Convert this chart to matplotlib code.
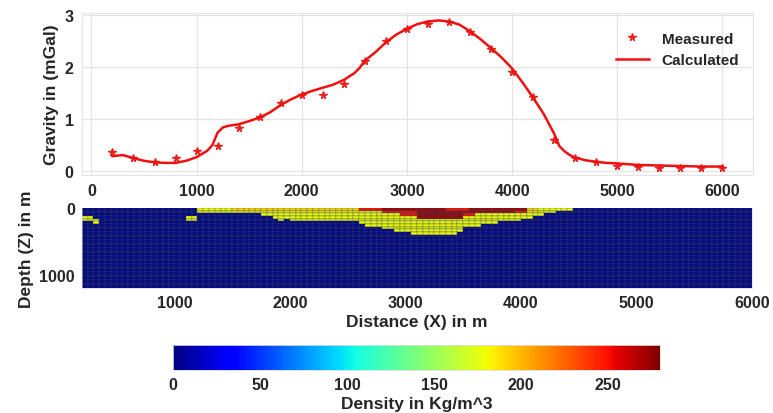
import numpy as np
import matplotlib
matplotlib.use("Agg")
import matplotlib.pyplot as plt

# ---------------- data ----------------
meas_x = [200, 400, 600, 800, 1000, 1200, 1400, 1600, 1800, 2000, 2200, 2400, 2600, 2800,
          3000, 3200, 3400, 3600, 3800, 4000, 4200, 4400, 4600, 4800, 5000, 5200, 5400,
          5600, 5800, 6000]
meas_g = [0.36, 0.26, 0.17, 0.26, 0.38, 0.48, 0.82, 1.04, 1.30, 1.46, 1.46, 1.68, 2.12, 2.49,
          2.73, 2.82, 2.86, 2.67, 2.35, 1.90, 1.42, 0.59, 0.26, 0.17, 0.10, 0.08, 0.07,
          0.07, 0.07, 0.07]

calc_x = [200, 300, 400, 500, 600, 700, 800, 900, 1000, 1100, 1150, 1200, 1250, 1300, 1400,
          1500, 1600, 1700, 1800, 1900, 2000, 2100, 2200, 2300, 2400, 2500, 2550, 2600, 2700,
          2800, 2900, 3000, 3100, 3200, 3300, 3400, 3500, 3600, 3700, 3800, 3900, 4000, 4100,
          4200, 4300, 4400, 4450, 4500, 4550, 4600, 4700, 4800, 4900, 5000, 5200, 5400, 5600,
          5800, 6000]
calc_g = [0.29, 0.31, 0.25, 0.20, 0.17, 0.16, 0.16, 0.20, 0.27, 0.39, 0.50, 0.74, 0.84, 0.87,
          0.90, 0.96, 1.03, 1.13, 1.27, 1.38, 1.47, 1.54, 1.60, 1.66, 1.75, 1.88, 1.98, 2.12,
          2.28, 2.47, 2.62, 2.73, 2.82, 2.87, 2.89, 2.87, 2.81, 2.68, 2.53, 2.36, 2.18, 1.97,
          1.70, 1.41, 1.10, 0.72, 0.48, 0.38, 0.31, 0.26, 0.21, 0.18, 0.16, 0.15, 0.12, 0.11,
          0.10, 0.09, 0.09]

# density model: blocks (x0, x1, z0, z1, density) on the inversion grid
model_blocks = [
    (200, 300, 120, 200, 180), (300, 350, 160, 240, 180), (1100, 1200, 120, 200, 180),
    (1200, 1750, 0, 80, 180), (1750, 1850, 0, 120, 180), (1850, 1900, 0, 160, 180),
    (1900, 1950, 0, 200, 180), (1950, 2000, 0, 160, 180), (2000, 2600, 0, 200, 180),
    (2600, 2650, 0, 240, 180), (2650, 2800, 0, 280, 180), (2800, 2900, 0, 320, 180),
    (2900, 3050, 0, 360, 180), (3050, 3450, 0, 400, 180), (3450, 3500, 0, 360, 180),
    (3500, 3650, 0, 280, 180), (3650, 3800, 0, 240, 180), (3800, 4000, 0, 200, 180),
    (4000, 4100, 0, 160, 180), (4100, 4200, 0, 120, 180), (4200, 4300, 0, 80, 180),
    (4300, 4450, 0, 40, 180),
    (1500, 2600, 0, 40, 192), (4050, 4150, 0, 40, 192),
    (2600, 2800, 0, 40, 250), (2800, 4050, 0, 40, 272), (3350, 3550, 0, 40, 250),
    (2800, 3100, 40, 80, 250), (3100, 3950, 40, 80, 272), (3950, 4050, 40, 80, 250),
    (2950, 3100, 80, 120, 250), (3100, 3500, 80, 160, 272), (3500, 3600, 80, 120, 250),
]
grid_x = np.arange(200, 6001, 50)
grid_z = np.arange(0, 1201, 40)

cbar_ticks = [0, 50, 100, 150, 200, 250]
# --------------------------------------

plt.rcParams['font.family'] = ['Liberation Sans', 'DejaVu Sans']
plt.rcParams['font.weight'] = 'bold'
txt = '#262626'

fig = plt.figure(figsize=(7.73, 4.14), dpi=100)

# ---- top: gravity ----
ax1 = fig.add_axes([0.106, 0.575, 0.868, 0.391])
ax1.plot(meas_x, meas_g, linestyle='none', marker='*', color='#e8231f', markersize=5.5, label='Measured')
ax1.plot(calc_x, calc_g, color='#f01010', linewidth=1.8, label='Calculated')
ax1.set_xticks([0, 1000, 2000, 3000, 4000, 5000, 6000])
ax1.set_yticks([0, 1, 2, 3])
ax1.grid(True, color='#e4e4e4', linewidth=0.9)
ax1.set_axisbelow(True)
for s in ax1.spines.values():
    s.set_color('#e4e4e4')
ax1.tick_params(length=0, labelsize=11.5, colors=txt, pad=6)
ax1.set_ylabel('Gravity in (mGal)', fontsize=12.5, color=txt, fontweight='bold')
leg = ax1.legend(loc='upper right', frameon=False, fontsize=11, bbox_to_anchor=(1.0, 0.97),
                 handlelength=2.2, labelspacing=0.5)
for t in leg.get_texts():
    t.set_color(txt)

# ---- bottom: density model ----
rho = np.zeros((len(grid_z) - 1, len(grid_x) - 1))
xc = 0.5 * (grid_x[:-1] + grid_x[1:])
zc = 0.5 * (grid_z[:-1] + grid_z[1:])
for (x0, x1, z0, z1, d) in model_blocks:
    mx = (xc > x0) & (xc < x1)
    mz = (zc > z0) & (zc < z1)
    rho[np.ix_(mz, mx)] = d

ax2 = fig.add_axes([0.106, 0.302, 0.867, 0.193])
mesh = ax2.pcolormesh(grid_x, grid_z, rho, cmap='jet', vmin=0, vmax=280,
                      edgecolors=(0.2, 0.3, 0.4, 0.22), linewidth=0.25)
ax2.set_xlim(200, 6000)
ax2.set_ylim(1200, 0)
ax2.set_xticks([1000, 2000, 3000, 4000, 5000, 6000])
ax2.set_yticks([0, 1000])
for s in ax2.spines.values():
    s.set_color('#c8d0e8')
    s.set_linewidth(0.4)
ax2.spines['top'].set_visible(False)
ax2.tick_params(length=0, labelsize=11.5, colors=txt, pad=5)
ax2.set_ylabel('Depth (Z) in m', fontsize=12.5, color=txt, fontweight='bold', labelpad=4)
ax2.set_xlabel('Distance (X) in m', fontsize=12.5, color=txt, fontweight='bold', labelpad=3)

# ---- colorbar ----
cax = fig.add_axes([0.224, 0.104, 0.630, 0.060])
cb = fig.colorbar(mesh, cax=cax, orientation='horizontal', ticks=cbar_ticks)
cb.outline.set_edgecolor('#dddddd')
cb.outline.set_linewidth(0.6)
cax.tick_params(length=0, labelsize=11.5, colors=txt, pad=5)
cb.set_label('Density in Kg/m^3', fontsize=12.5, color=txt, fontweight='bold', labelpad=3)

fig.savefig('out.png', dpi=100)
